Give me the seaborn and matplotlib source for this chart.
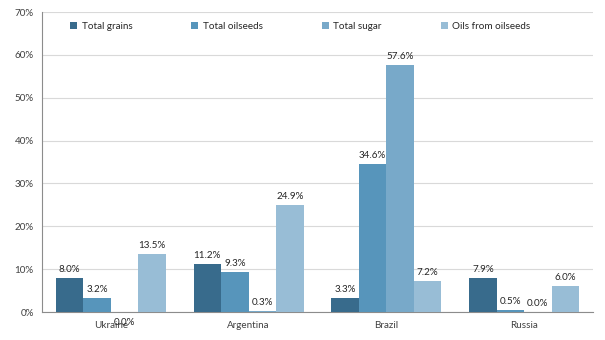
import matplotlib
matplotlib.use("Agg")
import matplotlib.pyplot as plt
import seaborn as sns
import pandas as pd
import numpy as np

countries = ["Ukraine", "Argentina", "Brazil", "Russia"]
series = ["Total grains", "Total oilseeds", "Total sugar", "Oils from oilseeds"]
total_grains = [8.0, 11.2, 3.3, 7.9]
total_oilseeds = [3.2, 9.3, 34.6, 0.5]
total_sugar = [-0.01, 0.3, 57.6, 0.0]
oils_from_oilseeds = [13.5, 24.9, 7.2, 6.0]
colors = ["#386b8c", "#5795bb", "#78a9c9", "#98bdd6"]
yticks = [0, 10, 20, 30, 40, 50, 60, 70]

sns.set_theme(style="white")
plt.rcParams['font.family'] = ['Lato', 'DejaVu Sans']

rows = []
for s, vals in zip(series, [total_grains, total_oilseeds, total_sugar, oils_from_oilseeds]):
    for c, v in zip(countries, vals):
        rows.append({"country": c, "series": s, "value": v})
df = pd.DataFrame(rows)

FS = 7.1
fig = plt.figure(figsize=(6.05, 3.4), dpi=100)
ax = fig.add_axes([42/605, 28/340, 551/605, 300/340])
sns.barplot(data=df, x="country", y="value", hue="series", palette=colors,
            order=countries, hue_order=series, width=0.8, ax=ax, saturation=1,
            errorbar=None, zorder=3, linewidth=0, edgecolor="none")

ax.set_ylim(0, 70)
ax.set_xlim(-0.5, 3.5)
ax.set_yticks(yticks)
ax.set_yticklabels([f"{t}%" for t in yticks], fontsize=FS, color="#404040")
ax.tick_params(axis="x", labelsize=FS, colors="#404040", length=0, pad=6.5)
ax.tick_params(axis="y", length=0, pad=6)
ax.set_xlabel("")
ax.set_ylabel("")
ax.grid(axis="y", color="#d9d9d9", linewidth=0.8, zorder=0)
for sp in ["top", "right"]:
    ax.spines[sp].set_visible(False)
for sp in ["left", "bottom"]:
    ax.spines[sp].set_color("#8c8c8c")
    ax.spines[sp].set_linewidth(0.8)

for cont in ax.containers:
    for bar in cont:
        v = bar.get_height()
        x = bar.get_x() + bar.get_width() / 2
        if v < 0:
            ax.annotate(f"{abs(v):.1f}%", (x, 0), xytext=(0, -4), textcoords="offset points",
                        ha="center", va="top", fontsize=FS, color="#262626")
        else:
            ax.annotate(f"{v:.1f}%", (x, v), xytext=(0, 3), textcoords="offset points",
                        ha="center", va="bottom", fontsize=FS, color="#262626")

handles, labels = ax.get_legend_handles_labels()
leg = ax.legend(handles, labels, loc="upper left", bbox_to_anchor=(0.035, 0.995), ncol=4,
                frameon=False, fontsize=FS, handlelength=0.7, handleheight=0.7,
                handletextpad=0.45, columnspacing=6.0)
for t in leg.get_texts():
    t.set_color("#262626")

fig.savefig("out.png", dpi=100)
